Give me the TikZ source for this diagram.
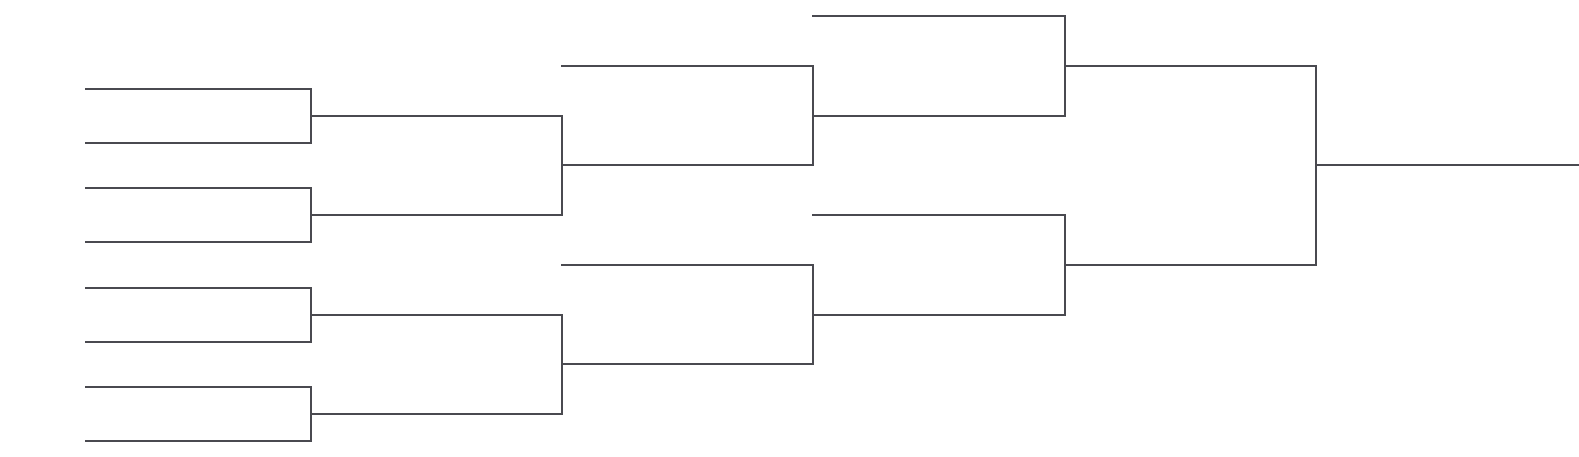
\documentclass[tikz,border=0pt]{standalone}
\definecolor{bracket}{HTML}{4A4A50}
\begin{document}
\begin{tikzpicture}[x=1bp,y=-1bp,
  bline/.style={draw=bracket,line width=2.3bp,line cap=rect,line join=miter}]
\useasboundingbox (0,0) rectangle (1579,457);
% round 1 entries
\foreach \n/\y in {a1/89,a2/143,a3/188,a4/242,a5/288,a6/342,a7/387,a8/441}{
  \coordinate (\n s) at (86,\y);
  \coordinate (\n e) at (311,\y);
}
% round 2 winners
\coordinate (b1s) at (311,116); \coordinate (b1e) at (562,116);
\coordinate (b2s) at (311,215); \coordinate (b2e) at (562,215);
\coordinate (b3s) at (311,315); \coordinate (b3e) at (562,315);
\coordinate (b4s) at (311,414); \coordinate (b4e) at (562,414);
% round 3
\coordinate (c0s) at (562,66);  \coordinate (c0e) at (813,66);
\coordinate (c1s) at (562,165); \coordinate (c1e) at (813,165);
\coordinate (c2s) at (562,265); \coordinate (c2e) at (813,265);
\coordinate (c3s) at (562,364); \coordinate (c3e) at (813,364);
% round 4
\coordinate (d0s) at (813,16);  \coordinate (d0e) at (1065,16);
\coordinate (d1s) at (813,116); \coordinate (d1e) at (1065,116);
\coordinate (d2s) at (813,215); \coordinate (d2e) at (1065,215);
\coordinate (d3s) at (813,315); \coordinate (d3e) at (1065,315);
% round 5
\coordinate (e1s) at (1065,66);  \coordinate (e1e) at (1316,66);
\coordinate (e2s) at (1065,265); \coordinate (e2e) at (1316,265);
% final
\coordinate (fs) at (1316,165); \coordinate (fe) at (1579,165);

% brackets round 1
\draw[bline] (a1s) -- (a1e) -- (a2e) -- (a2s);
\draw[bline] (a3s) -- (a3e) -- (a4e) -- (a4s);
\draw[bline] (a5s) -- (a5e) -- (a6e) -- (a6s);
\draw[bline] (a7s) -- (a7e) -- (a8e) -- (a8s);
% round 2
\draw[bline] (b1s) -- (b1e) -- (b2e) -- (b2s);
\draw[bline] (b3s) -- (b3e) -- (b4e) -- (b4s);
% round 3
\draw[bline] (c0s) -- (c0e) -- (c1e) -- (c1s);
\draw[bline] (c2s) -- (c2e) -- (c3e) -- (c3s);
% round 4
\draw[bline] (d0s) -- (d0e) -- (d1e) -- (d1s);
\draw[bline] (d2s) -- (d2e) -- (d3e) -- (d3s);
% round 5
\draw[bline] (e1s) -- (e1e) -- (e2e) -- (e2s);
% final
\draw[draw=bracket,line width=2.3bp] (fs) -- (fe);
\end{tikzpicture}
\end{document}
